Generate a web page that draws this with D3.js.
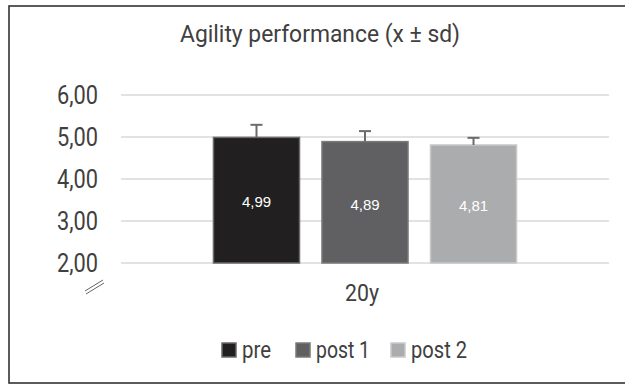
<!DOCTYPE html>
<html><head><meta charset="utf-8">
<script src="https://cdn.jsdelivr.net/npm/d3@7"></script>
<style>
html,body{margin:0;padding:0;background:#fff;}
svg{display:block;}
.narrow{font-family:"Liberation Sans Narrow","Arial Narrow",Roboto,sans-serif;}
</style></head>
<body>
<svg id="chart" width="625" height="385"></svg>
<script>
const categories = ["20y"];
const series = ["pre", "post 1", "post 2"];
const means = [4.99, 4.89, 4.81];
const sds = [0.30, 0.25, 0.17];
const valueLabels = ["4,99", "4,89", "4,81"];
const yTicks = [2, 3, 4, 5, 6];
const yTickLabels = ["2,00", "3,00", "4,00", "5,00", "6,00"];
const fills = ["#221f20", "#606062", "#abacae"];
const strokes = ["#6a6a6a", "#7a7a7a", "#c9c9cb"];
const title = "Agility performance (x \u00b1 sd)";

const svg = d3.select("#chart");
const textColor = "#404040";

// outer border
svg.append("rect").attr("x", 9).attr("y", 6).attr("width", 700).attr("height", 377)
  .attr("fill", "#fff").attr("stroke", "#333").attr("stroke-width", 1.6);

const y = d3.scaleLinear().domain([2, 6]).range([263, 95]);
const x0 = d3.scaleBand().domain(categories).range([121, 609]).padding(0);
const x1 = d3.scaleBand().domain(series).range([0, x0.bandwidth()]).paddingInner(0.207).paddingOuter(0.852);

// title
svg.append("text").attr("class", "narrow").attr("x", 320).attr("y", 42)
  .attr("text-anchor", "middle").attr("font-size", 23).attr("fill", textColor)
  .attr("textLength", 280).attr("lengthAdjust", "spacingAndGlyphs").text(title);

// gridlines
svg.append("g").selectAll("line").data(yTicks).join("line")
  .attr("x1", 121).attr("x2", 609)
  .attr("y1", d => y(d)).attr("y2", d => y(d))
  .attr("stroke", "#d9d9d9").attr("stroke-width", 1.5);

// y labels
svg.append("g").selectAll("text").data(yTicks).join("text")
  .attr("class", "narrow")
  .attr("x", 98).attr("y", d => y(d)).attr("dy", "0.36em")
  .attr("text-anchor", "end").attr("font-size", 25).attr("fill", textColor)
  .attr("textLength", 41).attr("lengthAdjust", "spacingAndGlyphs")
  .text((d, i) => yTickLabels[i]);

// axis break symbol
const brk = svg.append("g").attr("stroke", "#666").attr("stroke-width", 1);
brk.append("line").attr("x1", 85).attr("y1", 291).attr("x2", 103).attr("y2", 280);
brk.append("line").attr("x1", 86).attr("y1", 294).attr("x2", 104).attr("y2", 283);

// bars
const g = svg.append("g").attr("transform", `translate(${x0(categories[0])},0)`);
g.selectAll("rect").data(series).join("rect")
  .attr("x", d => x1(d)).attr("width", x1.bandwidth())
  .attr("y", (d, i) => y(means[i])).attr("height", (d, i) => y(2) - y(means[i]))
  .attr("fill", (d, i) => fills[i]).attr("stroke", (d, i) => strokes[i]).attr("stroke-width", 1.5);

// error bars
const eb = g.append("g").attr("stroke", "#6b6b6b").attr("stroke-width", 2);
series.forEach((s, i) => {
  const cx = x1(s) + x1.bandwidth() / 2;
  eb.append("line").attr("x1", cx).attr("x2", cx).attr("y1", y(means[i])).attr("y2", y(means[i] + sds[i]));
  eb.append("line").attr("x1", cx - 6).attr("x2", cx + 6).attr("y1", y(means[i] + sds[i])).attr("y2", y(means[i] + sds[i]));
});

// value labels
g.selectAll("text.val").data(series).join("text").attr("class", "val")
  .attr("x", d => x1(d) + x1.bandwidth() / 2)
  .attr("y", (d, i) => (y(means[i]) + y(2)) / 2 + 2).attr("dy", "0.35em")
  .attr("text-anchor", "middle").attr("font-family", "'Liberation Sans', Arial, sans-serif")
  .attr("font-size", 15).attr("fill", "#fff").text((d, i) => valueLabels[i]);

// category label
svg.append("text").attr("class", "narrow")
  .attr("x", x0(categories[0]) + x0.bandwidth() / 2 - 3).attr("y", 301)
  .attr("text-anchor", "middle").attr("font-size", 23).attr("fill", textColor)
  .attr("textLength", 34).attr("lengthAdjust", "spacingAndGlyphs").text(categories[0]);

// legend
const legX = [222, 296, 391];
const legW = [29, 54, 56];
const leg = svg.append("g");
series.forEach((s, i) => {
  leg.append("rect").attr("x", legX[i]).attr("y", 343).attr("width", 14).attr("height", 14)
    .attr("fill", fills[i]).attr("stroke", strokes[i]).attr("stroke-width", 1.5);
  leg.append("text").attr("class", "narrow").attr("x", legX[i] + 20).attr("y", 358)
    .attr("font-size", 23).attr("fill", textColor)
    .attr("textLength", legW[i]).attr("lengthAdjust", "spacingAndGlyphs").text(s);
});
</script>
</body></html>
